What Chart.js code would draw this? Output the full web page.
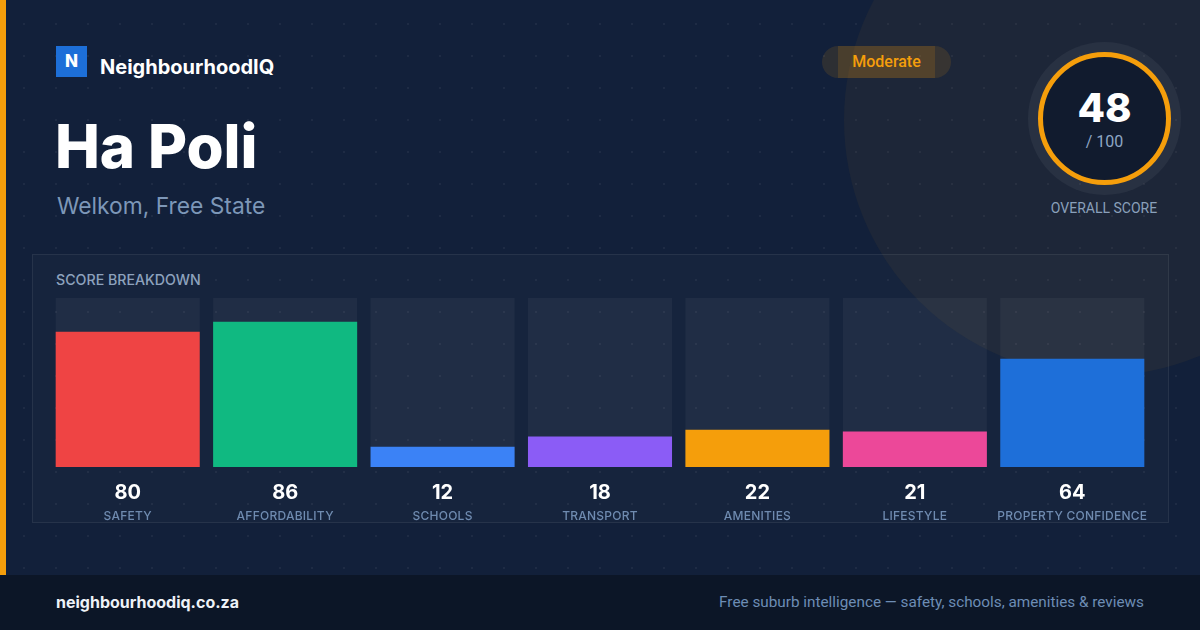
<!DOCTYPE html>
<html>
<head>
<meta charset="utf-8">
<script src="https://cdn.jsdelivr.net/npm/chart.js@4"></script>
<style>
  html, body { margin: 0; padding: 0; }
  body { width: 1200px; height: 630px; overflow: hidden; position: relative; background: #12203a; font-family: Inter, "Noto Sans", sans-serif; }
  .dots { position: absolute; left: 0; top: 0; width: 1200px; height: 575px;
    background-image: radial-gradient(circle, rgba(255,255,255,0.05) 1px, transparent 1.6px);
    background-size: 32px 32px; background-position: 8px 8px; }
  .glow { position: absolute; left: 844px; top: -136px; width: 512px; height: 512px; border-radius: 50%; background: rgba(245,158,11,0.05); }
  .stripe { position: absolute; left: 0; top: 0; width: 6px; height: 575px; background: #f59e0b; }
  .logo { position: absolute; left: 56px; top: 46px; width: 31px; height: 31px; background: #1d6fd8; color: #fff; font-weight: 800; font-size: 17px; text-align: center; line-height: 31px; }
  .brand { position: absolute; left: 100px; top: 54px; color: #fff; font-weight: 700; font-size: 20px; line-height: 26px; }
  h1 { position: absolute; left: 55px; top: 110px; margin: 0; color: #fff; font-weight: 800; font-size: 60px; line-height: 72px; letter-spacing: -0.1px; }
  .loc { position: absolute; left: 57px; top: 192px; color: #7d97b8; font-size: 22.8px; line-height: 28px; }
  .pill { position: absolute; left: 822px; top: 46px; width: 129px; height: 32px; border-radius: 16px; background: rgba(245,158,11,0.12); }
  .pill::before { content: ""; position: absolute; left: 16px; top: 0; width: 97px; height: 32px; background: rgba(245,158,11,0.14); }
  .pill span { position: absolute; left: 0; top: 0; width: 129px; line-height: 32px; text-align: center; color: #f59e0b; font-family: Roboto, sans-serif; font-weight: 500; font-size: 16px; }
  .ringwrap { position: absolute; left: 1028px; top: 42px; width: 153px; height: 153px; border-radius: 50%; background: rgba(255,255,255,0.05); }
  .ring { position: absolute; left: 10px; top: 10px; width: 123px; height: 123px; border-radius: 50%; border: 5px solid #f59e0b; background: #111b2e; }
  .score { position: absolute; left: 0; top: 29px; width: 123px; text-align: center; color: #fff; font-weight: 800; font-size: 40px; line-height: 44px; }
  .outof { position: absolute; left: 0; top: 75px; width: 123px; text-align: center; color: #8ea6c4; font-family: Roboto, sans-serif; font-size: 16px; line-height: 20px; }
  .overall { position: absolute; left: 1004px; top: 199px; width: 200px; text-align: center; color: #8aa0bb; font-family: Roboto, sans-serif; font-size: 14px; line-height: 18px; }
  .box { position: absolute; left: 32px; top: 254px; width: 1135px; height: 267px; border: 1px solid rgba(255,255,255,0.07); background: rgba(255,255,255,0.02); }
  .boxtitle { position: absolute; left: 56px; top: 271px; color: #8da2bd; font-weight: 500; font-size: 14.2px; line-height: 18px; }
  #chartWrap { position: absolute; left: 49px; top: 298px; width: 1102px; height: 227px; }
  .footer { position: absolute; left: 0; top: 575px; width: 1200px; height: 55px; background: #0c1627; }
  .site { position: absolute; left: 56px; top: 17px; color: #eef2f7; font-family: Inter, sans-serif; font-weight: 700; font-size: 16px; line-height: 20px; }
  .tag { position: absolute; right: 56px; top: 17px; color: #6d8db5; font-family: Roboto, sans-serif; font-size: 15.3px; line-height: 20px; }
</style>
</head>
<body>
<div class="dots"></div>
<div class="glow"></div>
<div class="stripe"></div>
<div class="logo">N</div>
<div class="brand">NeighbourhoodIQ</div>
<h1>Ha Poli</h1>
<div class="loc">Welkom, Free State</div>
<div class="pill"><span>Moderate</span></div>
<div class="ringwrap"><div class="ring"><div class="score">48</div><div class="outof">/ 100</div></div></div>
<div class="overall">OVERALL SCORE</div>
<div class="box"></div>
<div class="boxtitle">SCORE BREAKDOWN</div>
<div id="chartWrap"><canvas id="scoreChart" width="1102" height="227"></canvas></div>
<div class="footer">
  <div class="site">neighbourhoodiq.co.za</div>
  <div class="tag">Free suburb intelligence — safety, schools, amenities &amp; reviews</div>
</div>

<script>
// Chart data
const categories = ['SAFETY', 'AFFORDABILITY', 'SCHOOLS', 'TRANSPORT', 'AMENITIES', 'LIFESTYLE', 'PROPERTY CONFIDENCE'];
const scores = [80, 86, 12, 18, 22, 21, 64];
const trackValues = [100, 100, 100, 100, 100, 100, 100];
const barColors = ['#ef4444', '#10b981', '#3b82f6', '#8b5cf6', '#f59e0b', '#ec4899', '#1e6fd9'];

// Draw the number and the category name under each bar
const labelPlugin = {
  id: 'barLabels',
  afterDatasetsDraw(chart) {
    const { ctx, chartArea, scales } = chart;
    ctx.save();
    ctx.textAlign = 'center';
    categories.forEach((name, i) => {
      const x = scales.x.getPixelForValue(i);
      ctx.fillStyle = '#ffffff';
      ctx.font = '700 20px Inter';
      ctx.letterSpacing = '0px';
      ctx.fillText(String(scores[i]), x, chartArea.bottom + 32);
      ctx.fillStyle = '#6f8bb0';
      ctx.font = '500 12px Inter';
      ctx.letterSpacing = '0.25px';
      ctx.fillText(name, x, chartArea.bottom + 53);
    });
    ctx.restore();
  }
};

new Chart(document.getElementById('scoreChart'), {
  type: 'bar',
  data: {
    labels: categories,
    datasets: [
      {
        label: 'Score',
        data: scores,
        backgroundColor: barColors,
        grouped: false,
        order: 1,
        barPercentage: 0.915,
        categoryPercentage: 1
      },
      {
        label: 'Track',
        data: trackValues,
        backgroundColor: 'rgba(255,255,255,0.045)',
        grouped: false,
        order: 2,
        barPercentage: 0.915,
        categoryPercentage: 1
      }
    ]
  },
  options: {
    responsive: false,
    animation: false,
    layout: { padding: { top: 0, bottom: 58, left: 0, right: 0 } },
    plugins: { legend: { display: false }, tooltip: { enabled: false } },
    scales: {
      x: { display: false },
      y: { display: false, min: 0, max: 100 }
    }
  },
  plugins: [labelPlugin]
});
</script>
</body>
</html>
